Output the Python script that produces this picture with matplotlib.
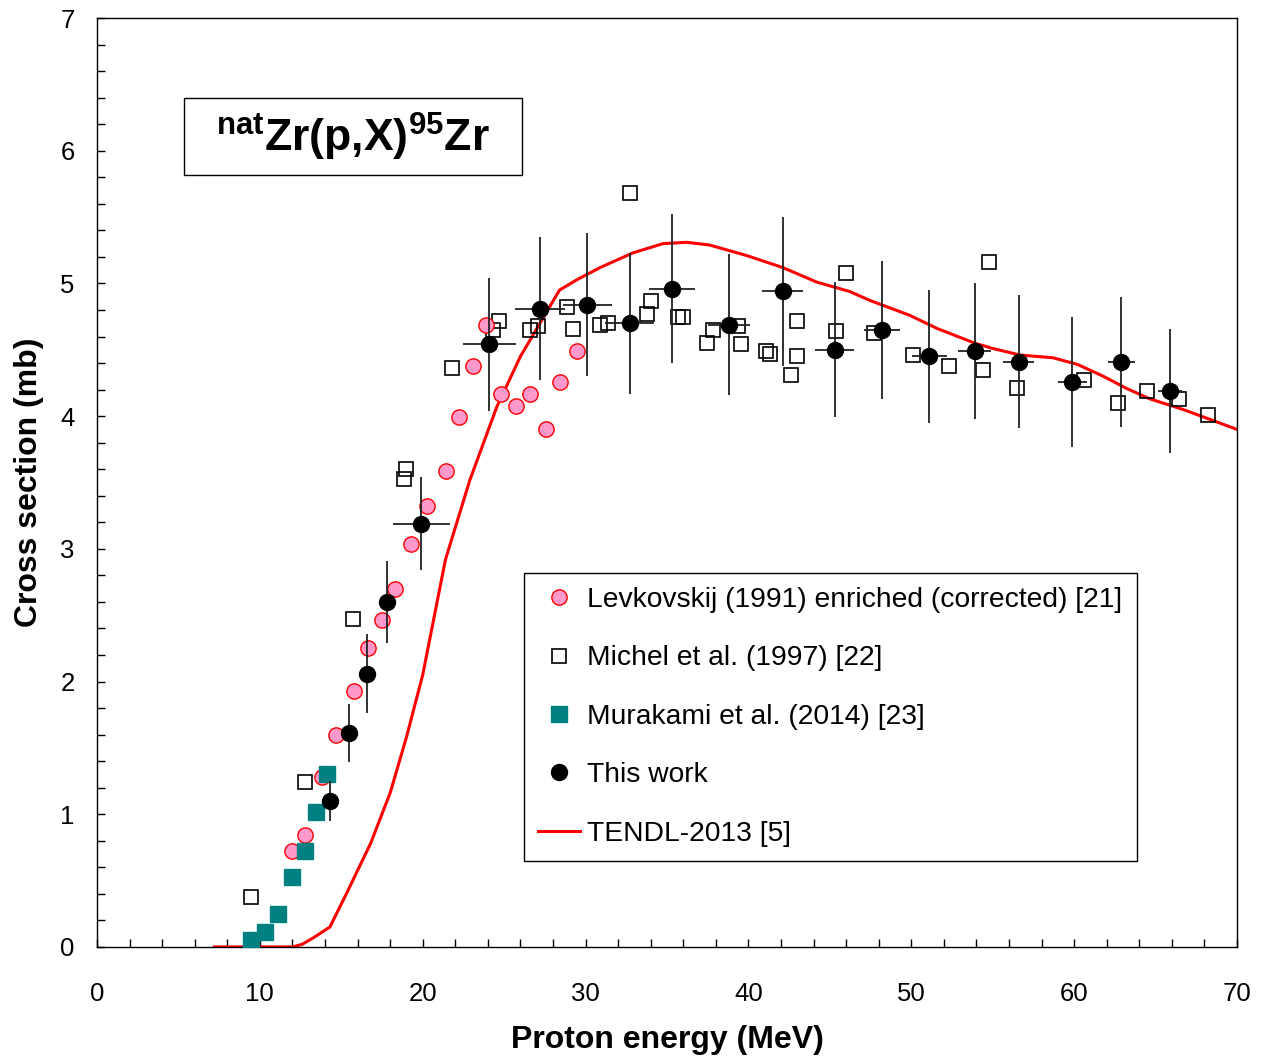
import matplotlib
matplotlib.use("Agg")
import matplotlib.pyplot as plt
from matplotlib.lines import Line2D
from matplotlib.patches import Rectangle
from matplotlib.ticker import MultipleLocator

plt.rcParams["font.family"] = ["Liberation Sans", "DejaVu Sans"]
plt.rcParams["mathtext.fontset"] = "custom"
plt.rcParams["mathtext.rm"] = "Liberation Sans:bold"
plt.rcParams["mathtext.it"] = "Liberation Sans:bold"
plt.rcParams["mathtext.bf"] = "Liberation Sans:bold"

# Levkovskij (1991) enriched (corrected)
lev_e = [12.0, 12.8, 13.8, 14.7, 15.8, 16.65, 17.5, 18.3, 19.3, 20.25, 21.4,
         22.2, 23.1, 23.9, 24.8, 25.7, 26.6, 27.6, 28.4, 29.5]
lev_xs = [0.72, 0.84, 1.28, 1.60, 1.93, 2.25, 2.46, 2.70, 3.04, 3.32, 3.59,
          3.99, 4.38, 4.69, 4.17, 4.08, 4.17, 3.90, 4.26, 4.49]

# Michel et al. (1997)
mic_e = [9.45, 12.8, 15.7, 18.85, 19.0, 21.8, 24.3, 24.7, 26.6, 27.1, 28.85,
         29.25, 30.9, 31.4, 32.7, 33.75, 34.0, 35.7, 36.0, 37.45, 37.8, 39.35,
         39.55, 41.1, 41.3, 42.6, 43.0, 43.0, 45.4, 46.0, 47.7, 50.1, 52.3,
         54.4, 54.8, 56.5, 60.6, 62.7, 64.5, 66.45, 68.2]
mic_xs = [0.38, 1.24, 2.47, 3.53, 3.60, 4.36, 4.65, 4.72, 4.65, 4.68, 4.82,
          4.66, 4.69, 4.70, 5.68, 4.77, 4.87, 4.75, 4.75, 4.55, 4.65, 4.68,
          4.54, 4.49, 4.47, 4.31, 4.45, 4.72, 4.64, 5.08, 4.63, 4.46, 4.38,
          4.35, 5.16, 4.21, 4.27, 4.10, 4.19, 4.13, 4.01]

# Murakami et al. (2014)
mur_e = [9.45, 10.3, 11.1, 12.0, 12.8, 13.45, 14.1]
mur_xs = [0.05, 0.11, 0.25, 0.53, 0.72, 1.02, 1.30]

# This work
tw_e = [14.3, 15.5, 16.6, 17.8, 19.9, 24.1, 27.2, 30.1, 32.7, 35.3, 38.8,
        42.1, 45.3, 48.2, 51.1, 53.9, 56.6, 59.9, 62.9, 65.9]
tw_de = [0.0, 0.0, 0.0, 0.0, 1.75, 1.6, 1.55, 1.5, 1.5, 1.4, 1.3,
         1.25, 1.2, 1.1, 1.07, 1.0, 0.95, 0.87, 0.85, 0.75]
tw_xs = [1.10, 1.61, 2.06, 2.60, 3.19, 4.54, 4.81, 4.84, 4.70, 4.96, 4.69,
         4.94, 4.50, 4.65, 4.45, 4.49, 4.41, 4.26, 4.41, 4.19]
tw_dxs = [0.15, 0.22, 0.30, 0.31, 0.35, 0.50, 0.54, 0.54, 0.53, 0.56, 0.53,
          0.56, 0.51, 0.52, 0.50, 0.51, 0.50, 0.49, 0.49, 0.47]

# TENDL-2013
tendl_e = [7.2, 12.0, 12.6, 13.3, 14.3, 15.35, 16.8, 18.0, 19.0, 20.0, 20.9, 21.4,
           22.9, 24.55, 26.0, 27.2, 28.4, 29.5, 30.9, 32.9, 34.75, 36.2, 37.6,
           39.9, 42.1, 44.2, 46.2, 47.5, 49.9, 51.6, 53.9, 55.0, 56.7, 58.7,
           60.2, 61.8, 63.2, 64.65, 66.7, 70.0]
tendl_xs = [0.0, 0.0, 0.02, 0.07, 0.15, 0.41, 0.78, 1.16, 1.58, 2.05, 2.61, 2.92,
            3.52, 4.07, 4.45, 4.70, 4.95, 5.03, 5.12, 5.23, 5.30, 5.31, 5.29,
            5.21, 5.12, 5.01, 4.94, 4.87, 4.76, 4.66, 4.55, 4.51, 4.46, 4.44,
            4.39, 4.30, 4.21, 4.13, 4.05, 3.90]

fig = plt.figure(figsize=(12.73, 10.61), dpi=100)
ax = fig.add_axes([0.0762, 0.1075, 0.8955, 0.8755])

ax.plot(tendl_e, tendl_xs, color="#ff0000", lw=2.2, zorder=2)
ax.plot(mic_e, mic_xs, "s", ms=10, mfc="none", mec="black", mew=1.2, zorder=3)
ax.plot(lev_e, lev_xs, "o", ms=11, mfc="#ff99cc", mec="#ff0000", mew=1.0, zorder=4)
ax.plot(mur_e, mur_xs, "s", ms=11, mfc="#008080", mec="#008080", zorder=4)
ax.errorbar(tw_e, tw_xs, xerr=tw_de, yerr=tw_dxs, fmt="o", ms=11.5,
            color="black", ecolor="#222222", elinewidth=1.3, capsize=0, zorder=5)

ax.set_xlim(0, 70)
ax.set_ylim(0, 7)
ax.xaxis.set_major_locator(MultipleLocator(10))
ax.xaxis.set_minor_locator(MultipleLocator(2))
ax.yaxis.set_major_locator(MultipleLocator(1))
ax.yaxis.set_minor_locator(MultipleLocator(0.2))
ax.tick_params(which="both", direction="in", length=6, width=1, labelsize=18.5)
ax.tick_params(axis="x", pad=25)
ax.tick_params(axis="y", pad=16)
for s in ax.spines.values():
    s.set_linewidth(1.0)

ax.set_xlabel("Proton energy (MeV)", fontsize=23, fontweight="bold", labelpad=14)
ax.set_ylabel("Cross section (mb)", fontsize=23, fontweight="bold", labelpad=12)

# reaction label in a box
ax.add_patch(Rectangle((0.0763, 0.831), 0.2965, 0.0829, transform=ax.transAxes,
                       fc="white", ec="black", lw=1, zorder=6))
ax.text(0.2246, 0.8724, r"$^{nat}$Zr(p,X)$^{95}$Zr", transform=ax.transAxes,
        ha="center", va="center", fontsize=32, fontweight="bold", zorder=7)

handles = [
    Line2D([], [], ls="none", marker="o", ms=11, mfc="#ff99cc", mec="#ff0000"),
    Line2D([], [], ls="none", marker="s", ms=10, mfc="none", mec="black", mew=1.2),
    Line2D([], [], ls="none", marker="s", ms=11, mfc="#008080", mec="#008080"),
    Line2D([], [], ls="none", marker="o", ms=11.5, color="black"),
    Line2D([], [], color="#ff0000", lw=2.2),
]
labels = ["Levkovskij (1991) enriched (corrected) [21]",
          "Michel et al. (1997) [22]",
          "Murakami et al. (2014) [23]",
          "This work",
          "TENDL-2013 [5]"]
leg = ax.legend(handles, labels, loc="upper left", bbox_to_anchor=(0.3746, 0.4026),
                borderaxespad=0, fontsize=20.3, frameon=True, fancybox=False,
                edgecolor="black", framealpha=1, labelspacing=1.15,
                handlelength=1.5, handletextpad=0.25, borderpad=0.5)
leg.get_frame().set_linewidth(1.0)

fig.savefig("out.png", dpi=100)
